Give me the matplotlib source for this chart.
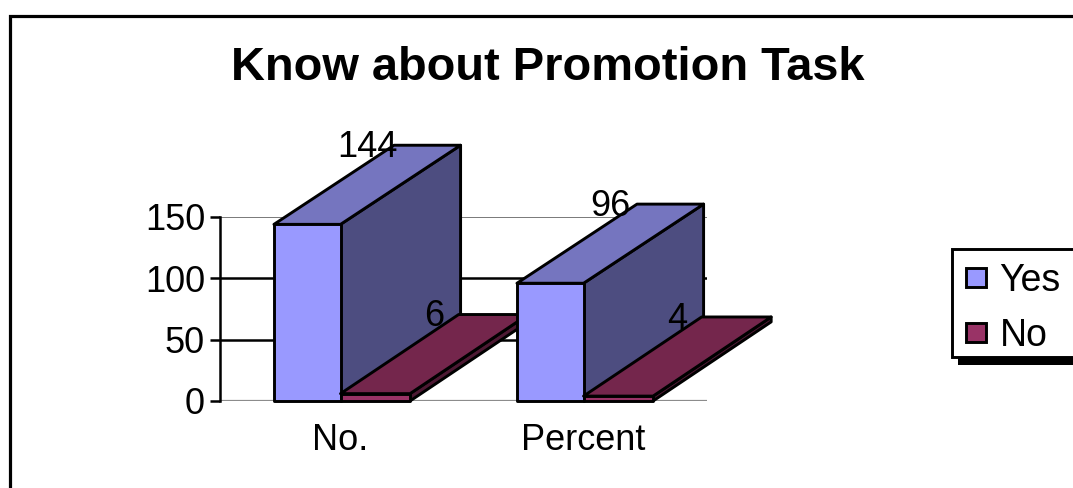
import matplotlib
matplotlib.use("Agg")
import matplotlib.pyplot as plt
from matplotlib.patches import Polygon, Rectangle
from matplotlib.lines import Line2D

plt.rcParams['font.family'] = ['Liberation Sans', 'DejaVu Sans']

W, H = 1073, 488

title = "Know about Promotion Task"
categories = ["No.", "Percent"]
yes_values = [144, 96]
no_values = [6, 4]
y_ticks = [0, 50, 100, 150]
series_names = ["Yes", "No"]

yes_colors = ("#9999FF", "#7575BF", "#4D4D80")
no_colors = ("#993366", "#74264C", "#4D1933")

YES_W = 0.274
NO_W = 0.286
YES_DEPTH_X = 0.494
NO_DEPTH_X = 0.486
DEPTH_Y = 64.5
EDGE = 2.1
LABEL_SIZE = 26


def fx(px):
    return px / W


def fy(px):
    return 1 - px / H


def draw_bar(ax, left, width, depth_x, value, colors):
    # front, top and side faces of one extruded column
    right = left + width
    front, top, side = colors
    ax.add_patch(Polygon([(right, 0), (right + depth_x, DEPTH_Y),
                          (right + depth_x, value + DEPTH_Y), (right, value)],
                         fc=side, ec="black", lw=EDGE, joinstyle="round", clip_on=False, zorder=3))
    ax.add_patch(Polygon([(left, value), (right, value),
                          (right + depth_x, value + DEPTH_Y), (left + depth_x, value + DEPTH_Y)],
                         fc=top, ec="black", lw=EDGE, joinstyle="round", clip_on=False, zorder=3))
    ax.add_patch(Rectangle((left, 0), width, value,
                           fc=front, ec="black", lw=EDGE, joinstyle="round", clip_on=False, zorder=3))
    ax.text(left + width / 2 + depth_x / 2, value + DEPTH_Y + 1.5, str(value), fontsize=LABEL_SIZE,
            ha="center", va="center_baseline", color="black", zorder=4, clip_on=False)


fig = plt.figure(figsize=(W / 100, H / 100), dpi=100, facecolor="white")

# outer frame, open on the right and at the bottom
fig.add_artist(Line2D([fx(9.5), fx(9.5), fx(W)], [fy(H), fy(15.5), fy(15.5)],
                      color="black", lw=2.3, solid_joinstyle="miter"))

fig.text(fx(548), fy(68), title, fontsize=33.8, fontweight="bold", ha="center", va="center")

ax = fig.add_axes([fx(220), fy(401), fx(707 - 220), fy(217) - fy(401)])
ax.set_xlim(-0.496, 1.508)
ax.set_ylim(0, 150)
ax.patch.set_visible(False)
for name in ["top", "right", "bottom"]:
    ax.spines[name].set_visible(False)
ax.spines["left"].set_linewidth(1.8)

ax.set_yticks(y_ticks)
ax.tick_params(axis="y", length=7.2, width=1.8, pad=3.6, labelsize=LABEL_SIZE)
ax.set_xticks(range(len(categories)))
ax.set_xticklabels(categories)
ax.tick_params(axis="x", length=0, pad=16, labelsize=LABEL_SIZE)

ax.grid(axis="y", color="black", lw=1.8, zorder=1)
ax.set_axisbelow(True)
grid_lines = ax.get_ygridlines()
grid_lines[0].set_color("#8c8c8c")
grid_lines[0].set_linewidth(1.6)
grid_lines[3].set_color("#555555")
grid_lines[3].set_linewidth(1.1)

for i in range(len(categories)):
    draw_bar(ax, i - YES_W, YES_W, YES_DEPTH_X, yes_values[i], yes_colors)
    draw_bar(ax, i, NO_W, NO_DEPTH_X, no_values[i], no_colors)

# legend box runs off the right edge of the figure
fig.add_artist(Rectangle((fx(958), fy(365)), fx(W + 10 - 958), fy(350) - fy(365),
                         transform=fig.transFigure, fc="black", ec="none"))
fig.add_artist(Rectangle((fx(951.5), fy(357)), fx(W + 20 - 951.5), fy(248.5) - fy(357),
                         transform=fig.transFigure, fc="white", ec="black", lw=2.1))
for name, color, center, x_text in zip(series_names, [yes_colors[0], no_colors[0]], [277.5, 332.5], [999, 1000]):
    fig.add_artist(Rectangle((fx(966.5), fy(center + 9.5)), fx(20), fy(center - 9.5) - fy(center + 9.5),
                             transform=fig.transFigure, fc=color, ec="black", lw=2.1))
    fig.text(fx(x_text), fy(center - 0.5), name, fontsize=LABEL_SIZE + 1, ha="left", va="center_baseline")

fig.savefig("out.png", dpi=100)
